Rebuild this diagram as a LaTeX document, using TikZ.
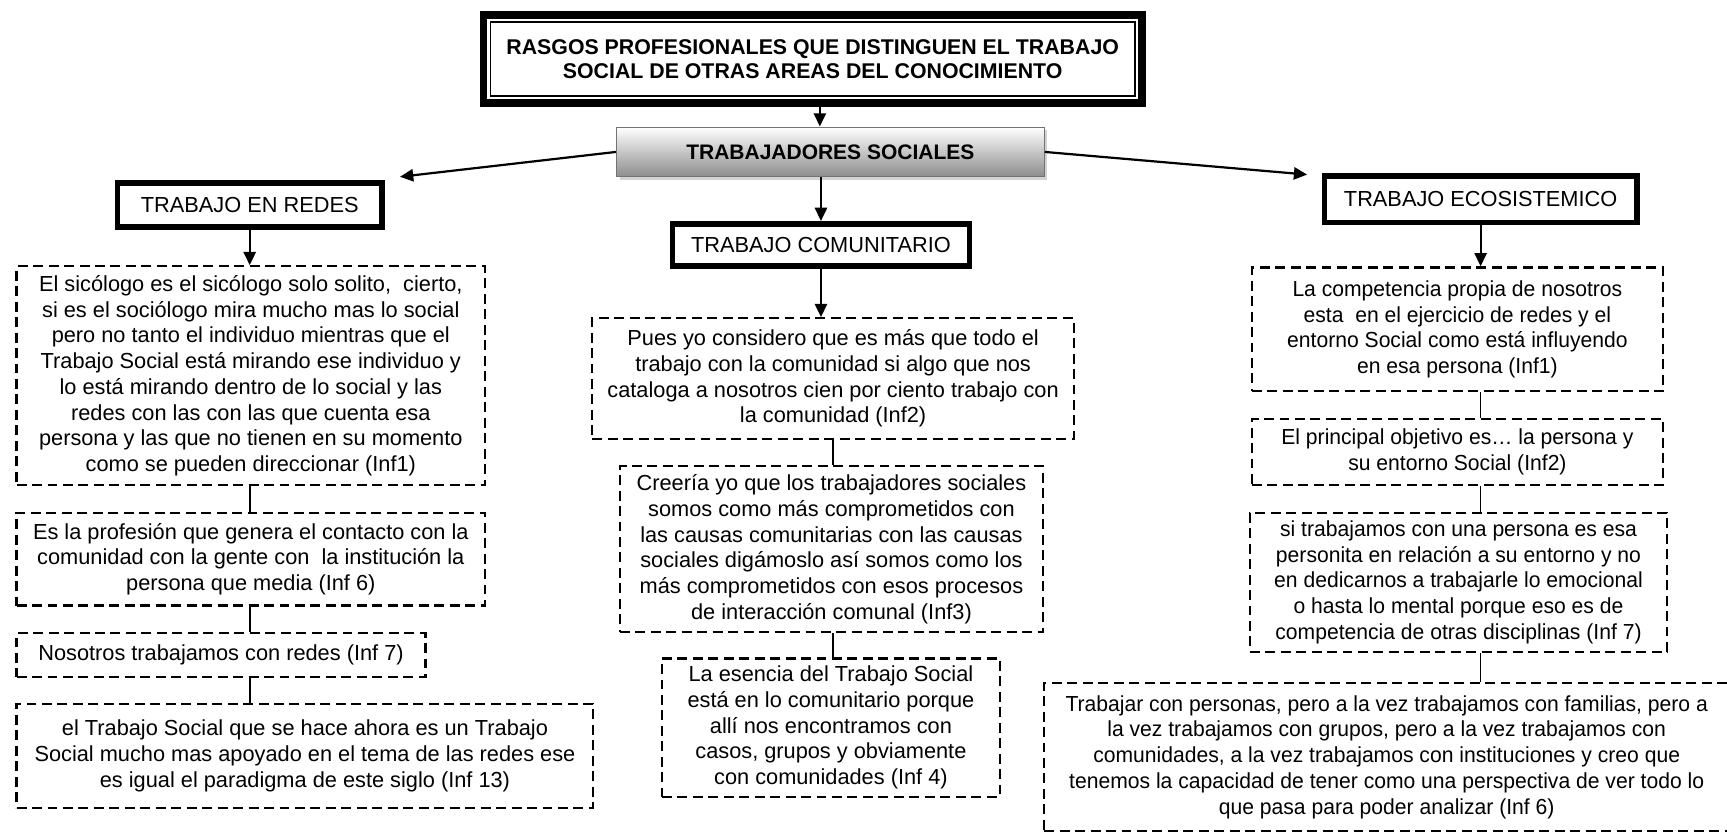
\documentclass[tikz,border=0pt]{standalone}
\usepackage{fontspec}
\setmainfont{Liberation Sans}
\newfontfamily\narrowfont[FakeStretch=0.97]{Liberation Sans}
\usepackage{tikz}
\usetikzlibrary{
    arrows.meta,
    positioning,
    shadows
}
\tikzset{
    % Colors
    header gray/.style={top color=white,bottom color=black!45},
    %
    % Boxes
    title box/.style={draw,line width=7pt,align=center,font=\fontsize{19.3}{22.5}\selectfont\bfseries},
    header box/.style={draw,line width=5pt,align=center,font=\fontsize{19.7}{23}\selectfont},
    gray box/.style={draw=black!55,line width=1pt,header gray,drop shadow={shadow xshift=3pt,shadow yshift=-3pt,fill=black!35},font=\fontsize{19}{22}\selectfont\bfseries},
    quote box/.style={draw,line width=2pt,dash pattern=on 9pt off 5pt,align=center,inner sep=2pt,font=\fontsize{19.7}{23.3}\selectfont},
    narrow quote/.style={quote box,font=\fontsize{19.7}{23.3}\selectfont\narrowfont},
    %
    % Arrows
    arrow tip/.tip={Triangle[length=12pt,width=11pt]},
    arr/.style={-{arrow tip},line width=2pt},
    link/.style={line width=1.5pt}
}

\begin{document}
\begin{tikzpicture}[x=1pt,y=-1pt]
    \useasboundingbox (0,0) rectangle (1563,755);

    \node[title box,minimum width=596pt,minimum height=80pt] (titulo) at (735.5,53.5) {RASGOS PROFESIONALES QUE DISTINGUEN EL TRABAJO\\SOCIAL DE OTRAS AREAS DEL CONOCIMIENTO};
    \draw[line width=1.5pt] ([shift={(10,10)}]titulo.north west) rectangle ([shift={(-10,-10)}]titulo.south east);
    \node[gray box,minimum width=387pt,minimum height=45pt] (trabajadores) at (751.5,137.5) {TRABAJADORES SOCIALES};

    \node[header box,minimum width=239pt,minimum height=40pt] (redes) at (226,185.5) {TRABAJO EN REDES};
    \node[header box,minimum width=269pt,minimum height=38pt] (comunitario) at (743,221.5) {TRABAJO COMUNITARIO};
    \node[header box,minimum width=283pt,minimum height=42pt] (ecosistemico) at (1340,180.5) {TRABAJO ECOSISTEMICO};

    % Trabajo en redes
    \node[quote box,minimum width=424pt,minimum height=198pt] (red1) at (227,340) {El sicólogo es el sicólogo solo solito, \ cierto,\\si es el sociólogo mira mucho mas lo social\\pero no tanto el individuo mientras que el\\Trabajo Social está mirando ese individuo y\\lo está mirando dentro de lo social y las\\redes con las con las que cuenta esa\\persona y las que no tienen en su momento\\como se pueden direccionar (Inf1)};
    \node[quote box,minimum width=424pt,minimum height=84pt] (red2) at (227,506) {Es la profesión que genera el contacto con la\\comunidad con la gente con \ la institución la\\persona que media (Inf 6)};
    \node[quote box,minimum width=370pt,minimum height=40pt] (red3) at (200,593) {Nosotros trabajamos con redes (Inf 7)};
    \node[quote box,minimum width=522pt,minimum height=94pt] (red4) at (276,684) {el Trabajo Social que se hace ahora es un Trabajo\\Social mucho mas apoyado en el tema de las redes ese\\es igual el paradigma de este siglo (Inf 13)};

    % Trabajo comunitario
    \node[quote box,minimum width=436pt,minimum height=109pt] (com1) at (754,342.5) {Pues yo considero que es más que todo el\\trabajo con la comunidad si algo que nos\\cataloga a nosotros cien por ciento trabajo con\\la comunidad (Inf2)};
    \node[quote box,minimum width=383pt,minimum height=150pt] (com2) at (752.5,497) {Creería yo que los trabajadores sociales\\somos como más comprometidos con\\las causas comunitarias con las causas\\sociales digámoslo así somos como los\\más comprometidos con esos procesos\\de interacción comunal (Inf3)};
    \node[quote box,minimum width=306pt,minimum height=125pt] (com3) at (752,658.5) {La esencia del Trabajo Social\\está en lo comunitario porque\\allí nos encontramos con\\casos, grupos y obviamente\\con comunidades (Inf 4)};

    % Trabajo ecosistemico
    \node[narrow quote,minimum width=372pt,minimum height=112pt] (eco1) at (1319,298) {La competencia propia de nosotros\\esta \ en el ejercicio de redes y el\\entorno Social como está influyendo\\en esa persona (Inf1)};
    \node[narrow quote,minimum width=372pt,minimum height=60pt] (eco2) at (1319,409) {El principal objetivo es… la persona y\\su entorno Social (Inf2)};
    \node[narrow quote,minimum width=378pt,minimum height=126pt] (eco3) at (1320,527) {si trabajamos con una persona es esa\\personita en relación a su entorno y no\\en dedicarnos a trabajarle lo emocional\\o hasta lo mental porque eso es de\\competencia de otras disciplinas (Inf 7)};
    \node[narrow quote,minimum width=620pt,minimum height=134pt] (eco4) at (1255,685) {Trabajar con personas, pero a la vez trabajamos con familias, pero a\\la vez trabajamos con grupos, pero a la vez trabajamos con\\comunidades, a la vez trabajamos con instituciones y creo que\\tenemos la capacidad de tener como una perspectiva de ver todo lo\\que pasa para poder analizar (Inf 6)};

    % Arrows
    \draw[arr] ([xshift=6.5]titulo.south) -- ([xshift=6.5]titulo.south |- trabajadores.north);
    \draw[arr] (trabajadores.west) -- ([shift={(14,-3)}]redes.north east);
    \draw[arr] (trabajadores.east) -- ([shift={(-13,1)}]ecosistemico.north west);
    \draw[arr] (trabajadores.south -| comunitario.north) -- (comunitario.north);
    \draw[arr] (redes.south) -- (redes.south |- red1.north);
    \draw[arr] (comunitario.south) -- (comunitario.south |- com1.north);
    \draw[arr] (ecosistemico.south) -- (ecosistemico.south |- eco1.north);

    % Links between quotes
    \foreach \a/\b in {red1/red2,red2/red3,red3/red4}
        \draw[link] (\a.south -| redes.south) -- (\b.north -| redes.south);
    \foreach \a/\b in {com1/com2,com2/com3}
        \draw[link] (\a.south -| com1.south) -- (\b.north -| com1.south);
    \foreach \a/\b in {eco1/eco2,eco2/eco3,eco3/eco4}
        \draw[link] (\a.south -| ecosistemico.south) -- (\b.north -| ecosistemico.south);
\end{tikzpicture}
\end{document}
